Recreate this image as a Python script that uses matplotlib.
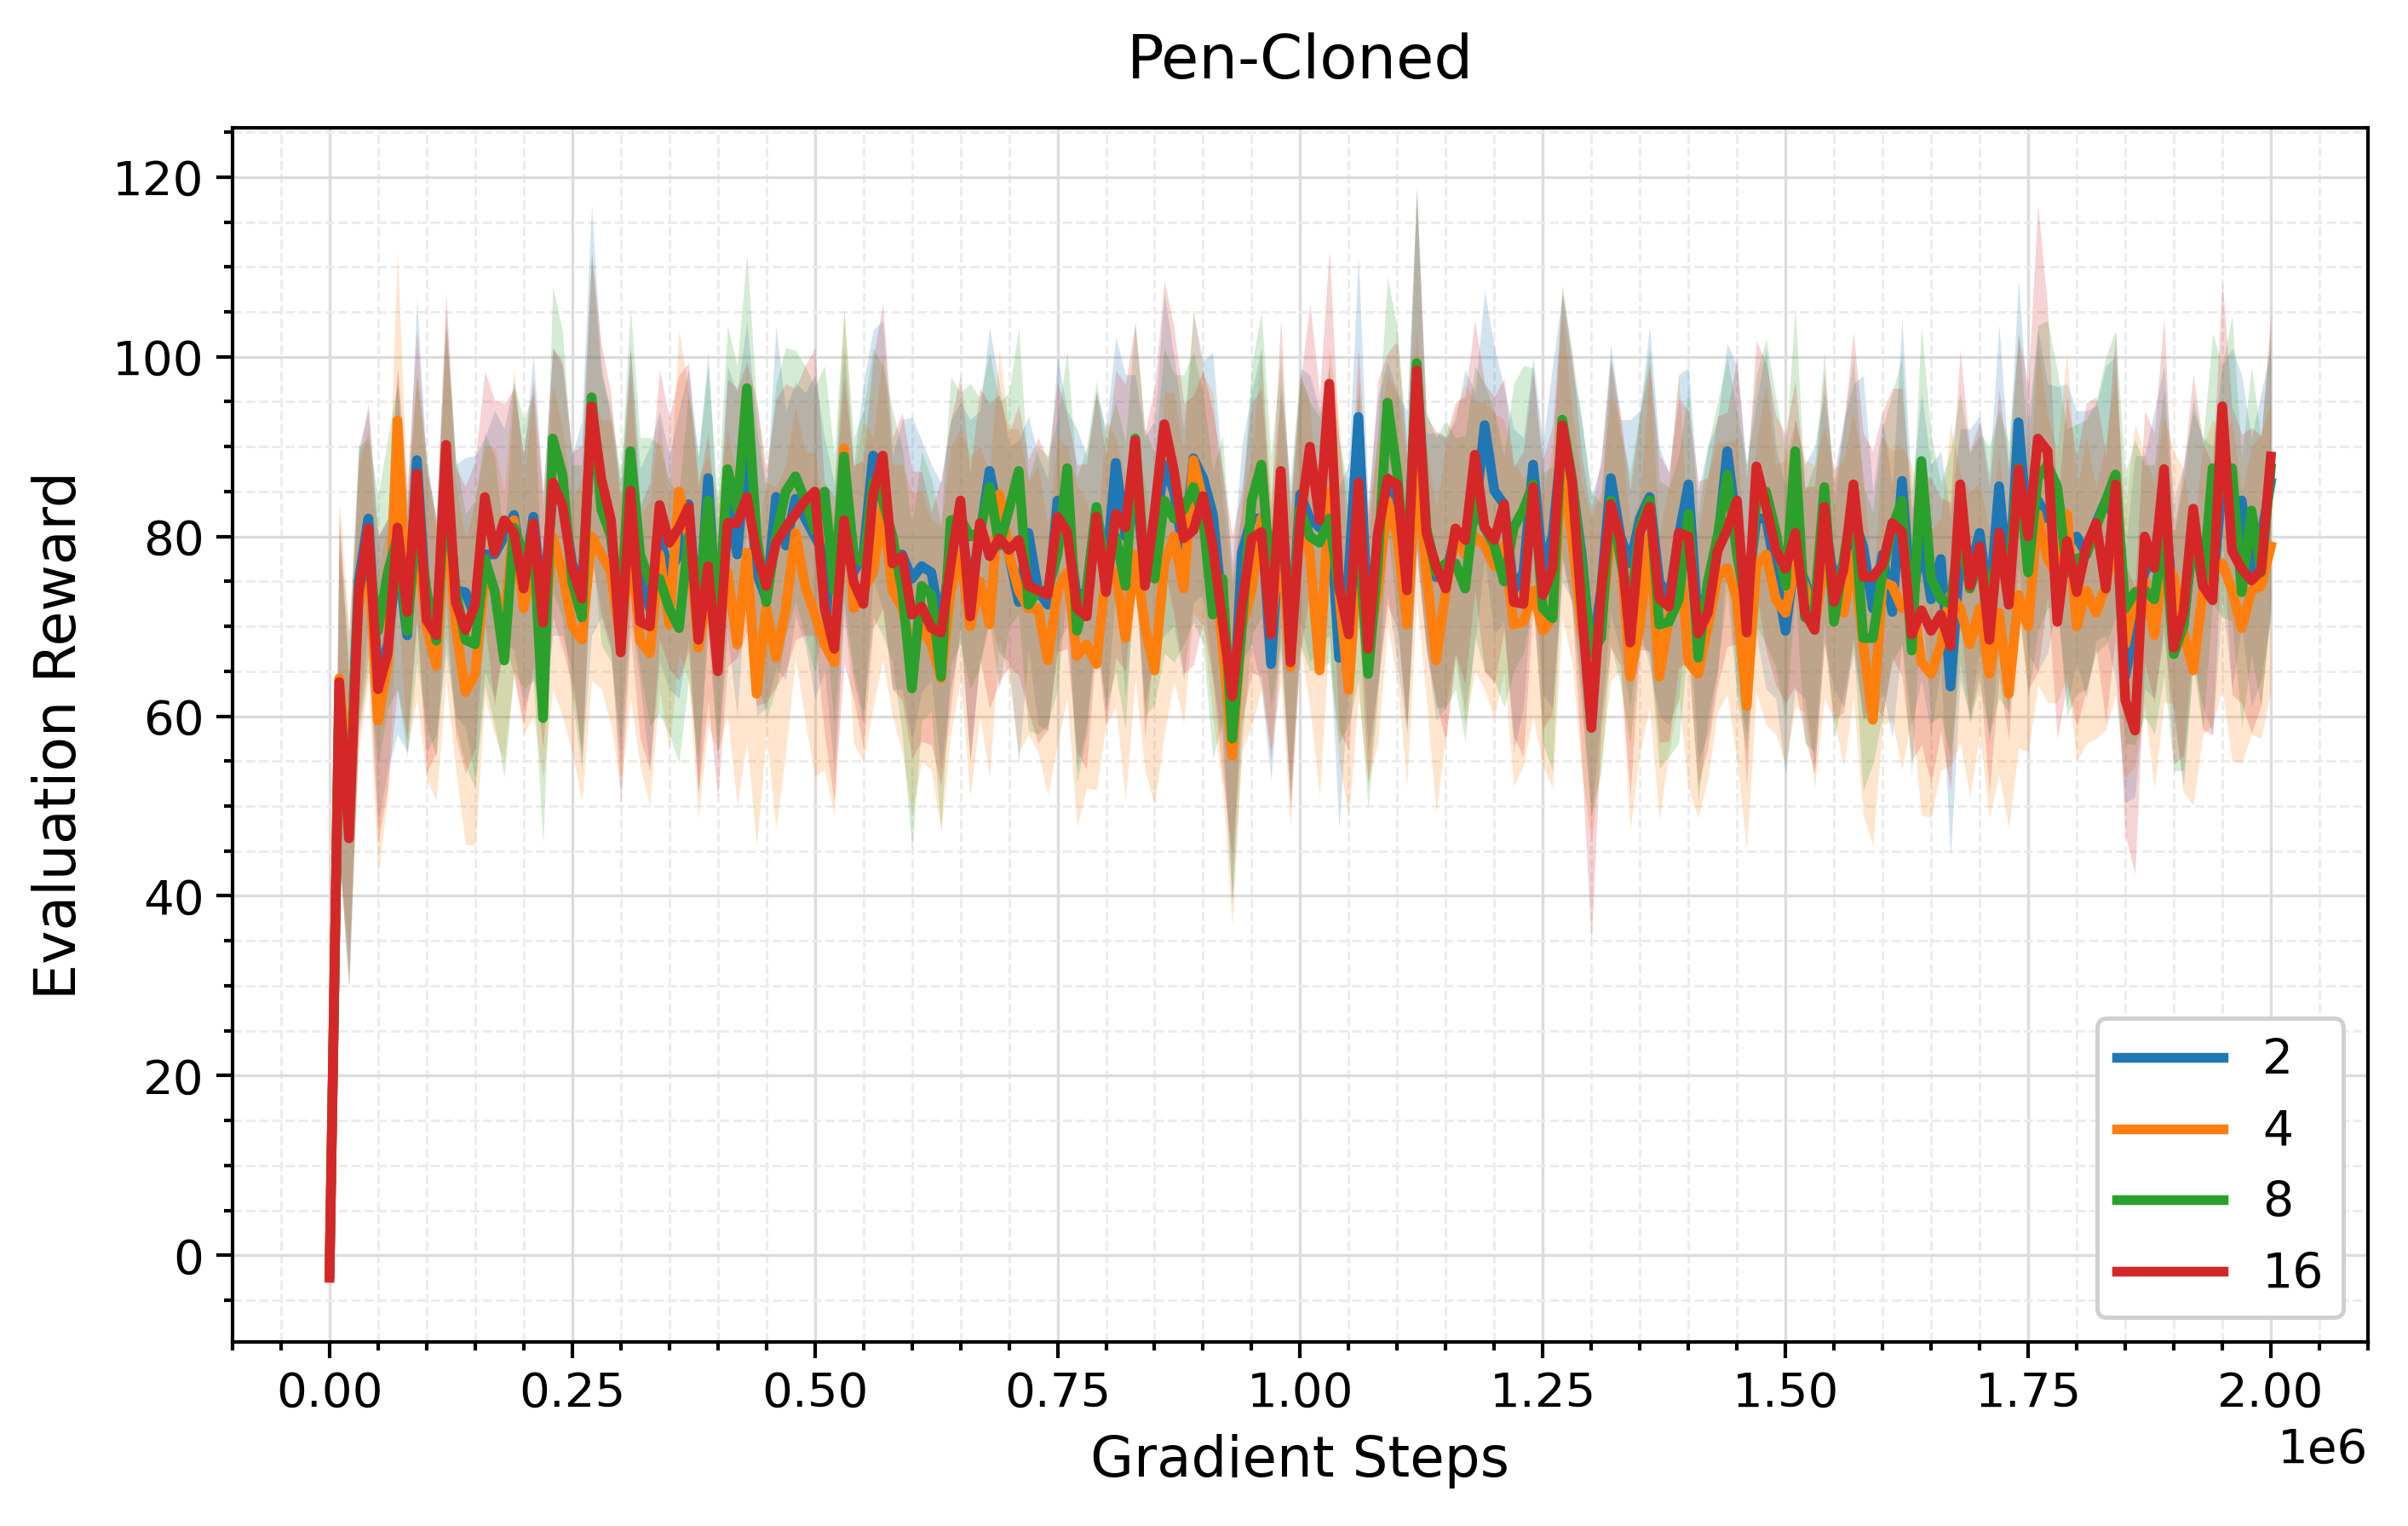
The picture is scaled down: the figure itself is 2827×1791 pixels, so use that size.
import numpy as np
import matplotlib
matplotlib.use('Agg')
import matplotlib.pyplot as plt
from matplotlib.ticker import AutoMinorLocator

# evaluation every 10k gradient steps, 0 .. 2e6
steps = np.arange(0, 2000001, 10000)
labels = ['2', '4', '8', '16']
colors = ['#1f77b4', '#ff7f0e', '#2ca02c', '#d62728']

mean_2 = [
    -2.0, 62.5, 50.0, 75.0, 82.0, 64.0, 68.0, 78.0, 69.0, 88.5,
    72.0, 70.0, 86.0, 74.0, 73.8, 71.0, 78.0, 78.0, 80.0, 82.4,
    75.0, 82.2, 72.0, 85.0, 84.0, 77.0, 74.0, 93.0, 85.0, 80.0,
    70.0, 86.0, 75.6, 72.0, 80.0, 76.0, 78.0, 83.6, 70.0, 86.5,
    68.0, 84.0, 78.0, 90.0, 76.0, 73.0, 84.4, 79.0, 84.2, 82.0,
    80.0, 78.0, 70.0, 86.0, 76.0, 78.0, 89.0, 88.0, 76.0, 78.0,
    75.3, 76.7, 76.0, 70.0, 78.0, 82.0, 74.0, 80.0, 87.3, 82.0,
    78.0, 72.7, 80.4, 74.0, 72.4, 84.0, 82.0, 73.0, 74.0, 83.0,
    76.0, 88.2, 80.0, 86.0, 76.0, 80.0, 88.0, 85.0, 78.0, 88.7,
    86.5, 82.5, 72.0, 58.0, 78.2, 82.0, 82.0, 65.8, 82.0, 68.0,
    84.7, 82.0, 81.0, 84.0, 66.5, 76.0, 93.3, 70.0, 79.5, 86.5,
    81.0, 76.0, 98.0, 79.5, 75.5, 76.0, 80.0, 79.6, 82.0, 92.4,
    85.1, 83.6, 74.0, 76.0, 88.0, 76.4, 80.0, 91.0, 86.0, 78.0,
    66.5, 74.0, 86.5, 80.0, 77.0, 82.0, 84.4, 75.0, 73.0, 80.0,
    85.8, 70.0, 74.0, 79.0, 89.5, 81.0, 73.0, 82.0, 82.0, 76.0,
    69.5, 78.0, 75.0, 72.0, 82.0, 75.0, 77.0, 82.0, 78.9, 72.0,
    78.0, 71.6, 86.2, 72.0, 80.0, 73.0, 77.5, 63.3, 78.0, 76.0,
    80.4, 72.0, 85.6, 74.0, 92.7, 80.0, 84.0, 82.0, 84.7, 79.0,
    80.0, 78.0, 81.5, 84.0, 82.0, 64.4, 70.0, 76.0, 78.0, 84.0,
    72.0, 70.0, 80.0, 76.0, 74.0, 86.0, 82.0, 84.0, 76.0, 80.0,
    86.0,
]
mean_4 = [
    -2.0, 64.2, 52.0, 72.0, 78.0, 59.5, 66.0, 92.9, 70.0, 80.0,
    70.0, 65.6, 84.0, 70.0, 62.7, 64.7, 76.0, 74.0, 70.0, 81.8,
    72.0, 78.0, 68.0, 80.0, 76.0, 70.0, 68.5, 80.0, 78.0, 76.0,
    68.0, 80.0, 68.4, 67.0, 78.0, 70.2, 85.0, 80.0, 67.6, 74.0,
    70.0, 76.0, 68.0, 78.2, 62.5, 72.0, 66.5, 72.0, 80.4, 74.5,
    71.3, 68.0, 66.0, 89.8, 72.0, 74.0, 76.0, 83.3, 74.0, 72.0,
    67.0, 70.0, 68.0, 64.2, 74.0, 78.0, 70.0, 75.0, 70.2, 84.7,
    78.0, 74.0, 72.0, 72.0, 66.2, 74.0, 76.0, 66.7, 68.0, 65.8,
    76.0, 76.0, 68.7, 78.0, 70.0, 65.1, 77.0, 80.0, 74.2, 88.5,
    84.0, 78.0, 68.0, 55.6, 70.0, 74.0, 82.0, 70.0, 80.0, 65.5,
    83.0, 78.0, 65.1, 85.0, 74.0, 62.9, 80.0, 67.5, 74.0, 84.0,
    80.0, 70.2, 88.0, 76.0, 66.2, 74.0, 80.0, 78.0, 80.0, 79.0,
    76.7, 79.0, 70.2, 70.5, 74.0, 69.5, 71.0, 88.0, 80.0, 70.0,
    64.0, 70.0, 80.0, 79.0, 64.4, 70.0, 80.0, 64.4, 71.0, 80.0,
    66.0, 64.7, 70.0, 75.5, 76.5, 73.0, 61.1, 76.7, 78.0, 73.0,
    71.5, 77.0, 74.5, 70.0, 77.0, 73.5, 71.5, 78.0, 68.0, 59.6,
    75.0, 74.5, 72.0, 74.0, 66.0, 64.7, 68.0, 73.5, 72.0, 68.0,
    72.0, 64.7, 71.5, 62.5, 73.5, 70.0, 82.5, 77.5, 75.5, 82.5,
    70.0, 74.0, 71.5, 74.5, 80.4, 68.0, 73.5, 75.0, 69.0, 77.5,
    75.5, 69.5, 65.1, 74.0, 76.0, 77.0, 74.0, 69.8, 74.0, 74.5,
    78.9,
]
mean_8 = [
    -2.0, 62.0, 48.0, 74.0, 78.0, 69.5, 76.0, 80.0, 69.5, 82.0,
    74.0, 68.4, 86.0, 74.0, 68.5, 68.0, 77.5, 74.0, 66.2, 81.0,
    78.0, 80.0, 59.8, 90.9, 86.9, 75.0, 71.0, 95.5, 83.0, 80.0,
    72.0, 89.5, 78.0, 75.0, 75.3, 72.0, 69.8, 80.0, 72.0, 84.0,
    70.0, 87.5, 83.0, 96.5, 80.0, 72.7, 80.0, 85.0, 86.7, 84.0,
    80.7, 85.0, 74.0, 88.9, 78.0, 77.0, 86.0, 84.0, 80.0, 74.0,
    63.1, 74.5, 73.5, 64.4, 81.8, 82.0, 80.0, 80.5, 85.5, 79.0,
    83.0, 87.3, 72.4, 74.0, 74.0, 78.0, 87.6, 69.5, 74.0, 83.3,
    76.0, 80.0, 74.5, 90.9, 76.0, 75.3, 84.0, 82.0, 83.0, 85.5,
    82.0, 71.3, 75.3, 57.5, 70.0, 84.0, 88.0, 75.0, 84.0, 68.0,
    83.0, 80.0, 79.3, 82.0, 74.0, 72.0, 80.0, 64.7, 77.0, 94.9,
    87.0, 74.5, 99.3, 81.0, 76.0, 77.0, 77.0, 74.2, 84.0, 81.0,
    79.0, 75.0, 81.0, 83.0, 85.8, 72.0, 70.9, 93.0, 86.5, 77.0,
    67.0, 68.7, 84.0, 77.5, 72.0, 81.0, 84.0, 70.2, 70.5, 73.0,
    82.5, 66.5, 75.0, 80.0, 86.9, 78.0, 72.0, 84.0, 85.0, 80.5,
    74.5, 89.5, 71.0, 72.0, 85.5, 70.5, 77.5, 84.0, 68.7, 68.7,
    76.0, 81.0, 84.0, 67.3, 88.4, 75.3, 73.0, 72.5, 81.0, 74.2,
    77.5, 74.0, 78.0, 75.5, 87.6, 76.0, 86.5, 88.0, 85.5, 76.0,
    77.5, 78.0, 81.0, 84.0, 86.9, 72.0, 73.8, 74.0, 73.0, 80.5,
    66.9, 70.0, 80.5, 74.5, 87.6, 85.0, 87.6, 73.8, 82.9, 76.0,
    87.6,
]
mean_16 = [
    -2.5, 63.8, 46.4, 73.8, 80.9, 63.0, 67.0, 81.0, 71.6, 87.0,
    70.7, 69.0, 90.2, 72.7, 69.6, 72.4, 84.4, 78.2, 81.8, 80.4,
    74.2, 81.5, 70.4, 86.0, 83.5, 76.4, 73.1, 94.5, 86.4, 81.8,
    67.1, 85.1, 70.5, 70.0, 83.5, 79.3, 81.0, 83.3, 68.5, 76.7,
    65.0, 81.5, 81.5, 84.4, 78.2, 74.5, 79.3, 81.0, 82.5, 84.0,
    85.0, 72.0, 67.5, 81.8, 74.9, 72.5, 84.7, 89.0, 77.0, 77.8,
    71.3, 72.2, 69.8, 69.3, 76.9, 84.0, 71.1, 81.5, 77.8, 79.8,
    78.5, 79.6, 74.5, 74.0, 73.5, 82.2, 80.5, 72.0, 71.1, 82.2,
    73.8, 82.5, 81.0, 90.7, 74.5, 82.7, 92.5, 87.3, 79.8, 80.7,
    84.5, 78.9, 70.5, 62.2, 72.4, 79.8, 80.5, 69.1, 87.3, 66.0,
    81.8, 90.0, 81.8, 97.0, 74.5, 69.1, 86.0, 67.5, 80.4, 86.4,
    85.8, 74.0, 98.5, 80.4, 76.7, 74.2, 80.9, 79.6, 89.1, 81.0,
    79.6, 83.6, 72.7, 72.5, 85.5, 73.5, 76.4, 92.4, 86.2, 72.0,
    58.7, 73.8, 83.6, 79.6, 68.2, 80.4, 83.3, 73.1, 72.2, 80.4,
    80.0, 69.2, 71.5, 78.4, 80.8, 84.0, 69.3, 87.8, 83.3, 78.5,
    76.4, 80.4, 71.5, 69.6, 83.3, 72.7, 76.4, 85.8, 75.5, 75.5,
    76.9, 81.5, 80.5, 69.1, 71.8, 69.5, 71.3, 67.8, 85.8, 74.5,
    78.9, 68.5, 80.4, 72.4, 87.5, 80.0, 90.9, 89.5, 70.5, 79.5,
    73.8, 78.9, 81.5, 74.2, 85.8, 61.8, 58.4, 80.0, 76.5, 87.5,
    67.6, 71.6, 83.1, 74.5, 72.9, 94.5, 78.4, 76.4, 75.1, 76.2,
    88.9,
]

std_2 = [
    0.8, 18, 19, 15, 12, 16, 14, 20, 13, 18, 16, 12, 19, 14, 15, 18, 13, 16, 12, 15,
    14, 18, 13, 16, 15, 12, 19, 24, 14, 13, 16, 15, 12, 18, 14, 13, 16, 15, 19, 14,
    13, 15, 18, 14, 16, 12, 19, 15, 13, 14, 18, 13, 16, 15, 12, 19, 14, 16, 13, 15,
    18, 14, 12, 16, 15, 13, 19, 14, 16, 15, 12, 18, 13, 15, 14, 16, 12, 19, 15, 13,
    16, 14, 18, 12, 15, 13, 19, 15, 14, 16, 13, 18, 15, 19, 12, 14, 19, 13, 15, 18,
    14, 16, 13, 15, 19, 12, 18, 14, 16, 13, 15, 18, 20, 12, 16, 15, 13, 19, 14, 15,
    16, 13, 18, 15, 12, 14, 19, 16, 13, 15, 18, 14, 15, 13, 16, 12, 19, 15, 14, 18,
    13, 15, 16, 14, 12, 18, 15, 13, 19, 14, 16, 15, 13, 18, 14, 12, 16, 15, 19, 13,
    15, 14, 18, 13, 16, 15, 12, 19, 14, 16, 13, 15, 18, 14, 16, 13, 19, 15, 12, 18,
    14, 16, 13, 15, 18, 14, 19, 13, 16, 15, 12, 18, 14, 15, 16, 13, 19, 14, 15, 16,
    15,
]
std_4 = [
    0.8, 20, 18, 16, 14, 17, 15, 19, 14, 18, 17, 15, 20, 16, 17, 19, 14, 16, 15, 17,
    14, 18, 15, 17, 16, 14, 18, 16, 15, 17, 16, 18, 14, 17, 15, 14, 18, 16, 19, 15,
    14, 16, 18, 21, 17, 14, 19, 16, 14, 15, 18, 14, 17, 16, 15, 19, 15, 17, 14, 16,
    18, 15, 14, 17, 16, 14, 19, 15, 17, 16, 14, 18, 14, 16, 15, 17, 14, 19, 16, 14,
    17, 15, 18, 14, 16, 15, 19, 16, 15, 17, 14, 18, 16, 19, 14, 15, 19, 14, 16, 18,
    15, 17, 14, 16, 19, 14, 18, 15, 17, 14, 16, 18, 15, 14, 17, 16, 14, 19, 15, 16,
    17, 14, 18, 16, 14, 15, 19, 17, 14, 16, 18, 15, 16, 14, 17, 14, 19, 16, 15, 18,
    14, 16, 17, 15, 14, 18, 16, 14, 19, 15, 17, 16, 14, 18, 15, 14, 17, 16, 19, 14,
    16, 15, 18, 14, 17, 16, 14, 19, 15, 17, 14, 16, 18, 15, 17, 14, 19, 16, 14, 18,
    15, 17, 14, 16, 18, 15, 19, 14, 17, 16, 14, 18, 15, 16, 17, 14, 19, 15, 16, 17,
    16,
]
std_8 = [
    0.8, 17, 18, 16, 13, 15, 15, 17, 14, 16, 15, 13, 17, 15, 14, 16, 14, 15, 13, 16,
    15, 16, 14, 17, 16, 13, 17, 16, 15, 14, 15, 16, 13, 16, 15, 14, 15, 16, 17, 15,
    14, 16, 16, 15, 15, 13, 17, 16, 14, 15, 16, 14, 15, 16, 13, 17, 15, 15, 14, 16,
    18, 15, 13, 17, 16, 14, 17, 15, 15, 16, 13, 16, 14, 16, 15, 15, 13, 17, 16, 14,
    15, 15, 16, 13, 16, 14, 17, 16, 15, 15, 14, 16, 16, 18, 13, 15, 17, 14, 16, 16,
    15, 15, 14, 16, 17, 13, 16, 15, 15, 14, 16, 16, 20, 13, 15, 16, 14, 17, 15, 16,
    15, 14, 16, 16, 13, 15, 17, 15, 14, 16, 18, 15, 16, 14, 15, 13, 17, 16, 15, 16,
    14, 16, 15, 15, 13, 16, 16, 14, 17, 15, 15, 16, 14, 16, 15, 13, 15, 16, 17, 14,
    16, 15, 16, 14, 15, 16, 13, 17, 15, 15, 14, 16, 16, 15, 15, 14, 17, 16, 13, 16,
    15, 15, 14, 16, 16, 15, 17, 14, 15, 16, 13, 16, 15, 16, 15, 14, 17, 15, 16, 15,
    16,
]
std_16 = [
    1.0, 19, 17, 15, 14, 17, 15, 18, 14, 16, 17, 13, 17, 15, 16, 16, 14, 17, 13, 16,
    15, 16, 14, 15, 16, 13, 17, 17, 15, 14, 17, 16, 13, 16, 15, 14, 17, 16, 17, 15,
    14, 16, 15, 15, 17, 13, 16, 16, 14, 15, 16, 14, 17, 16, 13, 16, 15, 17, 14, 16,
    16, 15, 13, 17, 16, 14, 16, 15, 17, 16, 13, 15, 14, 17, 15, 15, 13, 16, 17, 14,
    15, 16, 16, 13, 17, 14, 16, 16, 15, 15, 14, 15, 17, 18, 13, 15, 16, 14, 17, 16,
    15, 16, 14, 15, 16, 13, 15, 15, 17, 14, 16, 15, 20, 13, 15, 17, 14, 16, 15, 16,
    16, 14, 15, 17, 13, 15, 16, 15, 14, 17, 24, 15, 16, 14, 17, 13, 16, 16, 15, 15,
    14, 17, 15, 15, 13, 16, 17, 14, 16, 15, 15, 17, 14, 16, 15, 13, 16, 17, 16, 14,
    17, 15, 16, 14, 15, 17, 13, 16, 15, 15, 14, 17, 16, 15, 15, 17, 26, 16, 13, 16,
    15, 16, 14, 15, 17, 15, 16, 14, 15, 17, 13, 16, 15, 16, 15, 14, 16, 15, 17, 15,
    16,
]

means = [mean_2, mean_4, mean_8, mean_16]
stds = [std_2, std_4, std_8, std_16]

fig = plt.figure(figsize=(2828 / 300, 1791 / 300), dpi=300)
ax = fig.add_subplot(111)
fig.subplots_adjust(left=0.0965, right=0.983, bottom=0.1206, top=0.916)

for m, s, lab, c in zip(means, stds, labels, colors):
    m = np.array(m)
    s = np.array(s)
    ax.plot(steps, m, color=c, lw=2.75, label=lab)
    ax.fill_between(steps, m - s, m + s, color=c, alpha=0.2, lw=0)

ax.set_title('Pen-Cloned', fontsize=17.3, pad=14)
ax.set_xlabel('Gradient Steps', fontsize=15.8, labelpad=5)
ax.set_ylabel('Evaluation Reward', fontsize=16, labelpad=7)

ax.xaxis.set_minor_locator(AutoMinorLocator(5))
ax.yaxis.set_minor_locator(AutoMinorLocator(4))
ax.tick_params(which='major', labelsize=13.5, length=4.5, width=1)
ax.tick_params(which='minor', length=2.5, width=1)
ax.xaxis.get_offset_text().set_fontsize(13.5)
for sp in ax.spines.values():
    sp.set_linewidth(1.0)

ax.grid(which='major', color='#dcdcdc', lw=0.8)
ax.grid(which='minor', color='#ececec', lw=0.7, ls='--')
ax.set_axisbelow(True)

leg = ax.legend(loc='lower right', fontsize=13.7, handlelength=2.2, framealpha=1.0)
leg.get_frame().set_edgecolor('#d0d0d0')
leg.get_frame().set_linewidth(1.2)

plt.savefig('out.png', dpi=300)
